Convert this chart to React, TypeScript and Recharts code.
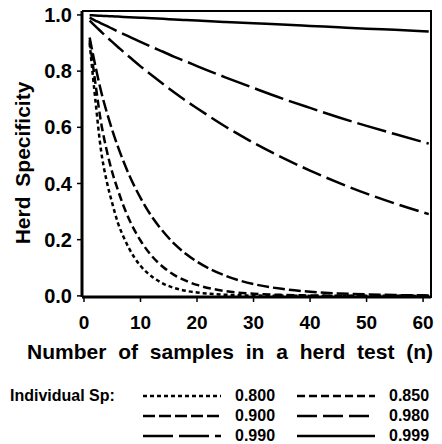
import { LineChart, Line, XAxis, YAxis } from "recharts";

// sample sizes
const nValues = [1, 2, 3, 4, 5, 6, 7, 8, 10, 12, 14, 16, 18, 20, 25, 30, 35, 40, 45, 50, 55, 61];

// herd specificity
const sp800 = [0.9, 0.7, 0.52, 0.41, 0.33, 0.26, 0.21, 0.168, 0.107, 0.069, 0.044, 0.028, 0.018, 0.012, 0.004, 0.0012, 0.0004, 0, 0, 0, 0, 0];
const sp850 = [0.91, 0.76, 0.62, 0.52, 0.44, 0.377, 0.32, 0.272, 0.197, 0.142, 0.103, 0.074, 0.054, 0.039, 0.017, 0.0076, 0.0034, 0.0015, 0.0007, 0.0003, 0.0001, 0];
const sp900 = [0.92, 0.82, 0.73, 0.656, 0.59, 0.531, 0.478, 0.43, 0.349, 0.282, 0.229, 0.185, 0.15, 0.122, 0.072, 0.042, 0.025, 0.015, 0.0087, 0.0052, 0.003, 0.0016];
const sp980 = [0.98, 0.96, 0.941, 0.922, 0.904, 0.886, 0.868, 0.851, 0.817, 0.785, 0.754, 0.724, 0.695, 0.668, 0.603, 0.545, 0.493, 0.446, 0.403, 0.364, 0.329, 0.291];
const sp990 = [0.99, 0.98, 0.97, 0.961, 0.951, 0.941, 0.932, 0.923, 0.904, 0.886, 0.869, 0.851, 0.835, 0.818, 0.778, 0.74, 0.703, 0.669, 0.636, 0.605, 0.576, 0.542];
const sp999 = [0.999, 0.998, 0.997, 0.996, 0.995, 0.994, 0.993, 0.992, 0.99, 0.988, 0.986, 0.984, 0.982, 0.98, 0.975, 0.97, 0.966, 0.961, 0.956, 0.951, 0.947, 0.941];

const spLabels = ["0.800", "0.850", "0.900", "0.980", "0.990", "0.999"];
const xTicks = [0, 10, 20, 30, 40, 50, 60];
const yTicks = [0, 0.2, 0.4, 0.6, 0.8, 1.0];

const seriesValues = [sp800, sp850, sp900, sp980, sp990, sp999];
const dashes = ["4 3", "8 4", "12 4", "20 6", "30 6", ""];

const chartData = nValues.map((n, i) => {
    const row: Record<string, number> = { n };
    spLabels.forEach((lab, j) => {
        row[lab] = seriesValues[j][i];
    });
    return row;
});

const FONT = "'Liberation Sans', Arial, sans-serif";
const xDomain = [-0.35, 61.4];
const yDomain = [-0.004, 1.014];

function LegendItem({ label, dash }: { label: string; dash: string }) {
    return (
        <div style={{ display: "flex", alignItems: "center", height: 20 }}>
            <svg width={80} height={6} style={{ display: "block" }}>
                <line x1={0} y1={3} x2={78} y2={3} stroke="#000" strokeWidth={2.5} strokeDasharray={dash || undefined} />
            </svg>
            <span style={{ marginLeft: 12 }}>{label}</span>
        </div>
    );
}

export default function App() {
    return (
        <div
            style={{
                position: "absolute",
                left: 0,
                top: 0,
                width: 442,
                height: 444,
                background: "#fff",
                fontFamily: FONT,
                fontWeight: "bold",
                color: "#000",
            }}
        >
            <LineChart
                width={442}
                height={340}
                data={chartData}
                margin={{ top: 11, right: 11, bottom: 0, left: 0 }}
            >
                <XAxis
                    dataKey="n"
                    type="number"
                    domain={xDomain}
                    ticks={xTicks}
                    height={43}
                    tickSize={5}
                    tickMargin={14}
                    axisLine={{ stroke: "#000", strokeWidth: 3 }}
                    tickLine={{ stroke: "#000", strokeWidth: 1.5 }}
                    tick={{ fill: "#000", fontSize: 19, fontWeight: "bold", fontFamily: FONT }}
                />
                <YAxis
                    type="number"
                    domain={yDomain}
                    ticks={yTicks}
                    width={82}
                    tickSize={5}
                    tickMargin={5}
                    tickFormatter={(v: number) => v.toFixed(1)}
                    axisLine={{ stroke: "#000", strokeWidth: 3 }}
                    tickLine={{ stroke: "#000", strokeWidth: 1.5 }}
                    tick={{ fill: "#000", fontSize: 20, fontWeight: "bold", fontFamily: FONT }}
                />
                {spLabels.map((lab, j) => (
                    <Line
                        key={lab}
                        type="monotone"
                        dataKey={lab}
                        stroke="#000"
                        strokeWidth={2.5}
                        strokeDasharray={dashes[j] || undefined}
                        dot={false}
                        isAnimationActive={false}
                    />
                ))}
            </LineChart>

            {/* top and right edges of the plot frame */}
            <div
                style={{
                    position: "absolute",
                    left: 82,
                    top: 10,
                    width: 350,
                    height: 288,
                    boxSizing: "border-box",
                    borderTop: "2px solid #000",
                    borderRight: "2px solid #000",
                    pointerEvents: "none",
                }}
            />

            <div
                style={{
                    position: "absolute",
                    left: 23,
                    top: 163,
                    transform: "translate(-50%, -50%) rotate(-90deg)",
                    whiteSpace: "nowrap",
                    fontSize: 21,
                    wordSpacing: 4,
                }}
            >
                Herd Specificity
            </div>

            <div
                style={{
                    position: "absolute",
                    left: 27,
                    top: 340,
                    whiteSpace: "nowrap",
                    fontSize: 21,
                    wordSpacing: 6,
                }}
            >
                Number of samples in a herd test (n)
            </div>

            <div
                style={{
                    position: "absolute",
                    left: 10,
                    top: 387,
                    fontSize: 16,
                    whiteSpace: "nowrap",
                }}
            >
                Individual Sp:
            </div>

            <div
                style={{
                    position: "absolute",
                    left: 143,
                    top: 386,
                    display: "grid",
                    gridTemplateColumns: "154px 140px",
                    fontSize: 16,
                }}
            >
                {spLabels.map((lab, j) => (
                    <LegendItem key={lab} label={lab} dash={dashes[j]} />
                ))}
            </div>
        </div>
    );
}
